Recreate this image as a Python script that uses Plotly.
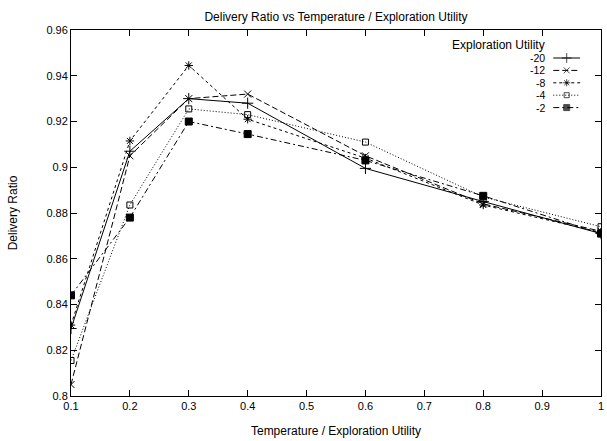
import plotly.graph_objects as go

temperature = [0.1, 0.2, 0.3, 0.4, 0.6, 0.8, 1.0]
series_names = ["-20", "-12", "-8", "-4", "-2"]
ratio_m20 = [0.8295, 0.907, 0.930, 0.928, 0.8995, 0.885, 0.871]
ratio_m12 = [0.805, 0.905, 0.930, 0.932, 0.905, 0.884, 0.872]
ratio_m8 = [0.831, 0.9115, 0.9445, 0.921, 0.904, 0.8835, 0.8715]
ratio_m4 = [0.8155, 0.8835, 0.9255, 0.923, 0.911, 0.887, 0.874]
ratio_m2 = [0.8440, 0.878, 0.920, 0.9145, 0.903, 0.8875, 0.871]

x_ticks = [0.1, 0.2, 0.3, 0.4, 0.5, 0.6, 0.7, 0.8, 0.9, 1.0]
x_tick_labels = ["0.1", "0.2", "0.3", "0.4", "0.5", "0.6", "0.7", "0.8", "0.9", "1"]
y_ticks = [0.8, 0.82, 0.84, 0.86, 0.88, 0.9, 0.92, 0.94, 0.96]
y_tick_labels = ["0.8", "0.82", "0.84", "0.86", "0.88", "0.9", "0.92", "0.94", "0.96"]
legend_title = "Exploration Utility"

values = [ratio_m20, ratio_m12, ratio_m8, ratio_m4, ratio_m2]
dashes = ["solid", "6px,3px", "3px,3px", "1px,2px", "6px,3px,2px,3px"]
symbols = ["cross-thin", "x-thin", "asterisk-open", "square-open", "square"]
sizes = [8, 7, 7, 6, 7]

# plot-area geometry in pixels (for converting legend placement)
W, H = 607, 441
L, R, T, B = 71, 3, 30, 45
pw, ph = W - L - R, H - T - B


def px_x(p):
    return (p - L) / pw


def px_y(p):
    return (H - B - p) / ph


fig = go.Figure()
for name, vals, dash, sym, sz in zip(series_names, values, dashes, symbols, sizes):
    fig.add_trace(go.Scatter(
        x=temperature, y=vals, name=name, mode="lines+markers", showlegend=False,
        line=dict(color="black", width=1, dash=dash),
        marker=dict(symbol=sym, size=sz, color="black",
                    line=dict(color="black", width=1)),
    ))

# gnuplot-style key: right-aligned label followed by a line sample
annotations = [dict(text=legend_title, x=px_x(549), y=px_y(44.5), xref="paper", yref="paper",
                    xanchor="right", yanchor="middle", showarrow=False, borderpad=0,
                    font=dict(size=12))]
for i, (name, dash, sym, sz) in enumerate(zip(series_names, dashes, symbols, sizes)):
    yy = px_y(58 + 12.4 * i)
    annotations.append(dict(text=name, x=px_x(549), y=yy, xref="paper", yref="paper",
                            xanchor="right", yanchor="middle", showarrow=False,
                            borderpad=0, font=dict(size=10.5)))
    fig.add_trace(go.Scatter(
        x=[px_x(556), px_x(569.5), px_x(583)], y=[yy, yy, yy],
        xaxis="x2", yaxis="y2", mode="lines+markers", showlegend=False,
        hoverinfo="skip",
        line=dict(color="black", width=1, dash=dash),
        marker=dict(symbol=sym, size=[0, sz - 1, 0], color="black",
                    line=dict(color="black", width=1)),
    ))

font = dict(family="Liberation Sans, Arial, sans-serif", size=11, color="black")
fig.update_layout(
    width=W, height=H,
    margin=dict(l=L, r=R, t=T, b=B),
    paper_bgcolor="white", plot_bgcolor="white",
    font=font,
    showlegend=False,
    annotations=annotations,
    title=dict(text="Delivery Ratio vs Temperature / Exploration Utility",
               x=0.5, xref="paper", xanchor="center", y=0.962, yanchor="middle",
               font=dict(size=12)),
    xaxis=dict(range=[0.1, 1.0000001], tickvals=x_ticks, ticktext=x_tick_labels,
               showgrid=False, zeroline=False, showline=True, linecolor="black",
               linewidth=1, mirror="allticks", ticks="inside", ticklen=6,
               tickcolor="black", tickfont=dict(size=11), ticklabeloverflow="allow",
               title=dict(text="Temperature / Exploration Utility", standoff=15,
                          font=dict(size=12))),
    yaxis=dict(range=[0.8, 0.96], tickvals=y_ticks, ticktext=y_tick_labels,
               showgrid=False, zeroline=False, showline=True, linecolor="black",
               linewidth=1, mirror="allticks", ticks="inside", ticklen=6,
               tickcolor="black", tickfont=dict(size=11),
               title=dict(text="Delivery Ratio", standoff=26, font=dict(size=12))),
    xaxis2=dict(range=[0, 1], overlaying="x", visible=False, domain=[0, 1]),
    yaxis2=dict(range=[0, 1], overlaying="y", visible=False, domain=[0, 1]),
)

fig.write_html("out.html")
